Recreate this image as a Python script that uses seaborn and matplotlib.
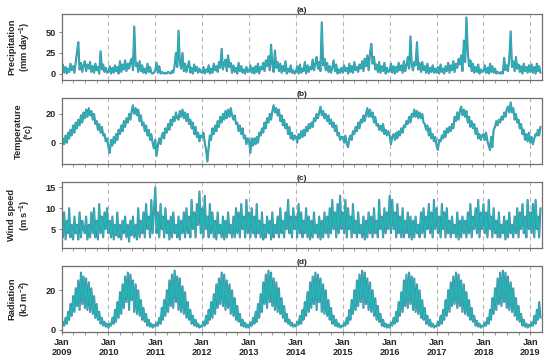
import matplotlib
matplotlib.use("Agg")
import matplotlib.pyplot as plt
import matplotlib.dates as mdates
import numpy as np
import pandas as pd
import seaborn as sns

# values read per 10-day period (days 1, 11, 21 of each month), Jan 2009 - Mar 2019
precip = [
    # 2009
    3, 11, 1, 8, 0, 6, 2, 12, 4, 9, 1, 14,
    26, 38, 5, 13, 2, 10, 15, 3, 11, 6, 14, 2,
    9, 1, 12, 4, 8, 0, 27, 5, 11, 2, 7, 1,
    # 2010
    2, 9, 0, 7, 1, 10, 3, 8, 0, 15, 2, 11,
    5, 16, 3, 12, 6, 14, 18, 4, 57, 9, 13, 2,
    15, 3, 10, 1, 6, 0, 12, 2, 8, 1, 0, 1,
    # 2011
    4, 13, 1, 9, 0, 2, 1, 0, 1, 0, 2, 1,
    0, 3, 1, 10, 25, 8, 52, 14, 6, 25, 3, 12,
    2, 9, 15, 1, 7, 0, 11, 3, 8, 1, 6, 2,
    # 2012
    1, 8, 0, 5, 2, 10, 0, 6, 1, 12, 4, 9,
    2, 14, 7, 30, 5, 12, 17, 3, 22, 8, 13, 1,
    10, 2, 7, 0, 13, 3, 9, 1, 5, 0, 8, 2,
    # 2013
    3, 10, 1, 7, 0, 9, 2, 12, 0, 8, 5, 13,
    3, 16, 9, 21, 4, 35, 11, 2, 28, 7, 14, 3,
    12, 1, 9, 3, 15, 0, 6, 2, 10, 1, 4, 0,
    # 2014
    2, 9, 0, 11, 1, 6, 3, 14, 0, 10, 2, 8,
    5, 17, 4, 12, 20, 6, 14, 3, 62, 10, 18, 4,
    13, 2, 9, 1, 7, 16, 3, 11, 0, 5, 1, 7,
    # 2015
    1, 10, 3, 7, 0, 12, 2, 9, 1, 14, 4, 8,
    2, 11, 6, 15, 3, 18, 9, 22, 4, 25, 36, 12,
    20, 5, 11, 2, 14, 1, 9, 3, 13, 0, 7, 2,
    # 2016
    3, 12, 1, 9, 0, 8, 2, 13, 4, 10, 1, 15,
    3, 9, 20, 6, 45, 11, 4, 14, 10, 38, 5, 13,
    2, 14, 4, 9, 1, 12, 0, 7, 2, 10, 1, 6,
    # 2017
    1, 8, 0, 11, 2, 6, 0, 9, 3, 13, 1, 10,
    4, 15, 2, 12, 7, 18, 11, 22, 3, 40, 14, 68,
    25, 9, 16, 3, 12, 1, 8, 2, 11, 0, 5, 2,
    # 2018
    3, 10, 1, 7, 0, 12, 2, 9, 1, 6, 0, 2,
    1, 0, 2, 0, 19, 4, 10, 3, 18, 51, 8, 15,
    3, 20, 6, 11, 2, 9, 0, 12, 3, 8, 1, 10,
    # 2019
    2, 11, 1, 8, 0, 12, 3, 9, 1,
]

temperature = [
    # 2009
    -4, 3, -1, 5, 0, 7, 3, 9, 5, 12, 7, 14,
    10, 16, 12, 19, 14, 21, 17, 23, 18, 24, 19, 22,
    16, 20, 13, 15, 9, 13, 7, 11, 5, 6, 1, 3,
    # 2010
    -3, -7, 2, -2, 4, 0, 6, 2, 9, 6, 12, 8,
    15, 11, 17, 14, 20, 16, 22, 26, 20, 24, 19, 23,
    15, 19, 12, 14, 8, 12, 5, 9, 2, 6, 0, -4,
    # 2011
    2, -9, -2, 3, -1, 5, 7, 3, 10, 7, 13, 9,
    16, 12, 18, 15, 21, 17, 16, 22, 18, 23, 17, 21,
    15, 20, 13, 16, 10, 14, 6, 11, 4, 7, 1, 5,
    # 2012
    4, 7, 0, -5, -13, -3, 5, 2, 10, 6, 12, 8,
    15, 11, 18, 14, 20, 16, 22, 17, 23, 18, 24, 19,
    16, 19, 13, 14, 8, 12, 6, 10, 3, 5, -1, 3,
    # 2013
    1, -7, 3, -2, 3, -1, 4, 0, 7, 5, 10, 7,
    14, 10, 17, 14, 20, 16, 22, 26, 21, 24, 19, 23,
    15, 19, 12, 16, 10, 13, 6, 11, 3, 7, 2, 5,
    # 2014
    4, 0, 6, 3, 8, 4, 9, 5, 11, 8, 13, 10,
    14, 11, 17, 15, 20, 17, 21, 25, 19, 22, 17, 20,
    15, 19, 13, 16, 11, 14, 8, 12, 5, 7, 2, 4,
    # 2015
    4, 0, 5, -1, -3, 3, 5, 2, 8, 6, 11, 8,
    14, 10, 16, 14, 19, 15, 20, 24, 18, 23, 18, 21,
    14, 18, 12, 13, 9, 12, 8, 13, 6, 9, 5, 8,
    # 2016
    5, -1, 4, 6, 2, 7, 3, 8, 5, 10, 7, 12,
    11, 15, 13, 18, 14, 20, 18, 23, 18, 22, 17, 21,
    17, 20, 14, 13, 9, 12, 5, 10, 3, 6, 1, 4,
    # 2017
    -2, -5, 2, 1, 5, 3, 8, 4, 10, 7, 11, 8,
    13, 10, 18, 15, 21, 16, 22, 25, 19, 23, 18, 22,
    14, 18, 11, 15, 10, 13, 6, 10, 3, 6, 2, 5,
    # 2018
    6, 2, 7, 1, -2, -5, 4, -3, 9, 11, 15, 12,
    16, 14, 18, 16, 21, 18, 23, 25, 21, 28, 21, 24,
    16, 20, 14, 16, 10, 13, 6, 9, 2, 6, 1, 7,
    # 2019
    0, 4, -1, 3, 6, 5, 9, 5, 11,
]

wind_speed = [
    # 2009
    8, 3, 9, 2.5, 7, 4, 10, 3, 6, 2.5, 8, 4,
    6, 2.5, 9, 3, 7, 5, 4, 8, 2.5, 6, 3, 9,
    4, 10, 3, 7, 2.5, 11, 4, 8, 3, 9, 5, 10,
    # 2010
    4, 7, 3, 8, 2.5, 6, 3.5, 9, 3, 6, 2.5, 7,
    4, 8, 3, 6, 2, 7, 3.5, 8, 3, 6, 2.5, 10,
    3, 7, 4, 9, 3, 11, 5, 8, 3, 12, 4, 9,
    # 2011
    15, 4, 9, 3, 11, 5, 8, 3, 10, 4, 7, 2.5,
    8, 3, 9, 4, 6, 3, 8, 2.5, 7, 4, 9, 3,
    10, 4, 8, 3, 12, 5, 9, 3, 11, 6, 14, 4,
    # 2012
    10, 3, 13, 5, 8, 3, 11, 4, 9, 3, 7, 2.5,
    9, 4, 6, 3, 8, 2.5, 7, 3, 9, 4, 6, 3,
    8, 3, 10, 4, 9, 3, 11, 5, 8, 3, 12, 4,
    # 2013
    9, 3, 10, 4, 8, 3, 11, 4, 7, 3, 9, 2.5,
    6, 3, 8, 4, 7, 2.5, 9, 3, 6, 4, 8, 3,
    10, 4, 7, 3, 9, 5, 12, 4, 8, 3, 10, 5,
    # 2014
    8, 3, 11, 4, 9, 3, 7, 4, 10, 3, 8, 2.5,
    7, 3, 9, 4, 6, 3, 8, 2.5, 7, 3, 9, 4,
    8, 3, 10, 4, 12, 5, 9, 3, 11, 4, 13, 5,
    # 2015
    9, 4, 12, 3, 10, 5, 8, 3, 11, 4, 7, 3,
    9, 4, 6, 3, 8, 2.5, 7, 3, 9, 4, 8, 3,
    10, 4, 7, 3, 12, 5, 8, 3, 10, 4, 9, 5,
    # 2016
    13, 4, 12, 5, 9, 3, 11, 4, 8, 3, 10, 3,
    7, 4, 9, 3, 8, 2.5, 7, 3, 8, 4, 6, 3,
    9, 4, 10, 3, 8, 5, 11, 4, 9, 3, 12, 5,
    # 2017
    10, 4, 8, 3, 11, 5, 9, 3, 10, 4, 7, 3,
    8, 4, 6, 3, 9, 2.5, 7, 3, 8, 4, 7, 3,
    9, 4, 11, 3, 8, 5, 10, 4, 12, 3, 9, 5,
    # 2018
    11, 4, 9, 3, 12, 5, 8, 3, 10, 4, 7, 3,
    9, 3, 6, 4, 8, 2.5, 7, 3, 9, 4, 6, 3,
    8, 4, 10, 3, 9, 5, 11, 4, 8, 3, 12, 5,
    # 2019
    9, 4, 11, 3, 12, 5, 8, 3, 10,
]

radiation = [
    # 2009
    1.5, 4, 2, 6, 3, 9, 5, 13, 7, 17, 9, 21,
    12, 25, 10, 29, 13, 27, 11, 26, 10, 24, 9, 21,
    8, 17, 6, 13, 5, 9, 3, 6, 2, 4, 1.5, 3,
    # 2010
    1, 3, 2, 6, 3, 10, 4, 14, 6, 19, 8, 23,
    11, 27, 14, 29, 10, 28, 15, 25, 9, 23, 8, 20,
    7, 15, 5, 11, 4, 8, 2, 5, 1.5, 3, 1, 2.5,
    # 2011
    1.5, 3.5, 2, 6, 3, 11, 5, 15, 7, 20, 9, 25,
    12, 28, 11, 30, 14, 27, 10, 26, 9, 22, 8, 19,
    6, 14, 5, 10, 3, 7, 2, 5, 1.5, 3, 1, 2,
    # 2012
    1.5, 4, 2, 7, 3, 10, 5, 14, 6, 18, 8, 23,
    11, 26, 13, 29, 12, 28, 10, 25, 11, 23, 8, 20,
    7, 16, 5, 12, 4, 8, 2, 5, 1.5, 3.5, 1, 2.5,
    # 2013
    1, 3.5, 2, 6, 3, 9, 4, 13, 6, 18, 9, 24,
    13, 28, 11, 30, 14, 29, 12, 26, 10, 24, 9, 21,
    8, 16, 6, 12, 4, 8, 3, 5, 2, 3.5, 1.5, 2.5,
    # 2014
    1.5, 4, 2.5, 7, 3, 10, 5, 14, 7, 19, 9, 24,
    11, 27, 13, 29, 10, 28, 14, 26, 9, 23, 8, 20,
    7, 15, 5, 11, 3, 7, 2, 5, 1.5, 3, 1, 2,
    # 2015
    1.5, 3.5, 2, 6, 3, 10, 5, 15, 8, 20, 10, 25,
    12, 28, 14, 30, 11, 29, 13, 26, 10, 24, 9, 20,
    7, 16, 5, 12, 4, 8, 2, 5, 1.5, 3, 1, 2.5,
    # 2016
    1, 3.5, 2, 6, 3, 9, 4, 14, 7, 19, 9, 25,
    12, 28, 11, 29, 13, 27, 10, 26, 9, 23, 8, 20,
    6, 15, 5, 11, 3, 7, 2, 5, 1.5, 3, 1, 2,
    # 2017
    1.5, 4, 2, 7, 3, 10, 5, 15, 7, 20, 9, 24,
    12, 27, 13, 29, 11, 28, 12, 25, 9, 23, 8, 19,
    7, 15, 5, 11, 4, 7, 2, 4.5, 1.5, 3, 1, 2,
    # 2018
    1.5, 3.5, 2, 6, 3, 10, 5, 16, 8, 21, 10, 26,
    13, 29, 12, 30, 14, 29, 11, 27, 10, 24, 9, 21,
    7, 16, 5, 12, 4, 8, 2, 5, 1.5, 3, 1, 2.5,
    # 2019
    1.5, 3.5, 2, 7, 3, 10, 5, 14, 6,
]

dates = [pd.Timestamp(y, m, d)
         for y in range(2009, 2020)
         for m in range(1, 13)
         for d in (1, 11, 21)
         if (y, m) <= (2019, 3)]

df = pd.DataFrame({"date": dates, "precip": precip, "temp": temperature,
                   "wind": wind_speed, "rad": radiation})

LINE_DARK = "#5a7eab"
LINE_LIGHT = "#1fbab3"
SPINE = "#707070"

sns.set_style("ticks")
plt.rcParams['font.family'] = ['Liberation Sans', 'DejaVu Sans']
plt.rcParams['font.weight'] = 'bold'
plt.rcParams['mathtext.fontset'] = 'custom'
plt.rcParams['mathtext.rm'] = 'Liberation Sans:bold'
plt.rcParams['mathtext.bf'] = 'Liberation Sans:bold'

panels = [
    ("precip", "Precipitation\n(mm day$^{-1}$)", (-8, 72), [0, 25, 50], "(a)"),
    ("temp", "Temperature\n(°c)", (-14.8, 31), [0, 20], "(b)"),
    ("wind", "Wind speed\n(m s$^{-1}$)", (0.45, 16.3), [5, 10, 15], "(c)"),
    ("rad", "Radiation\n(kJ m$^{-2}$)", (-1.2, 32.4), [0, 20], "(d)"),
]

fig, axes = plt.subplots(4, 1, figsize=(5.5, 3.62), dpi=100, sharex=True)
fig.subplots_adjust(left=0.112, right=0.985, top=0.961, bottom=0.083, hspace=0.27)

for ax, (col, label, ylim, yticks, tag) in zip(axes, panels):
    # dashed year separators
    for yr in range(2010, 2020):
        ax.axvline(pd.Timestamp(yr, 1, 1), color="#b8b8b8", ls=(0, (4, 3)), lw=0.8, zorder=0)

    sns.lineplot(data=df, x="date", y=col, ax=ax, color=LINE_DARK, lw=1.5,
                 estimator=None, errorbar=None)
    sns.lineplot(data=df, x="date", y=col, ax=ax, color=LINE_LIGHT, lw=0.8,
                 estimator=None, errorbar=None)

    ax.set_ylim(*ylim)
    ax.set_yticks(yticks)
    ax.set_xlim(pd.Timestamp(2009, 1, 1), pd.Timestamp(2019, 3, 31))
    ax.set_title(tag, fontsize=6, fontweight='bold', pad=1.5)
    ax.set_ylabel(label, fontsize=6.7, fontweight='bold', linespacing=1.15)
    ax.yaxis.set_label_coords(-0.06, 0.5)
    ax.set_xlabel("")

    ax.xaxis.set_major_locator(mdates.YearLocator())
    ax.xaxis.set_minor_locator(mdates.MonthLocator(bymonth=[4, 7, 10]))
    ax.xaxis.set_major_formatter(mdates.DateFormatter("%b\n%Y"))
    ax.tick_params(axis='both', which='major', direction='out', length=2.5, width=0.6,
                   color=SPINE, labelsize=6.6, pad=1.5)
    ax.tick_params(axis='x', which='minor', direction='out', length=2, width=0.5, color=SPINE)
    for lab in ax.get_yticklabels() + ax.get_xticklabels():
        lab.set_fontweight('bold')

    for side in ax.spines.values():
        side.set_color(SPINE)
        side.set_linewidth(0.9)

for lab in axes[-1].get_xticklabels():
    lab.set_linespacing(1.2)

fig.savefig("out.png", dpi=100)
